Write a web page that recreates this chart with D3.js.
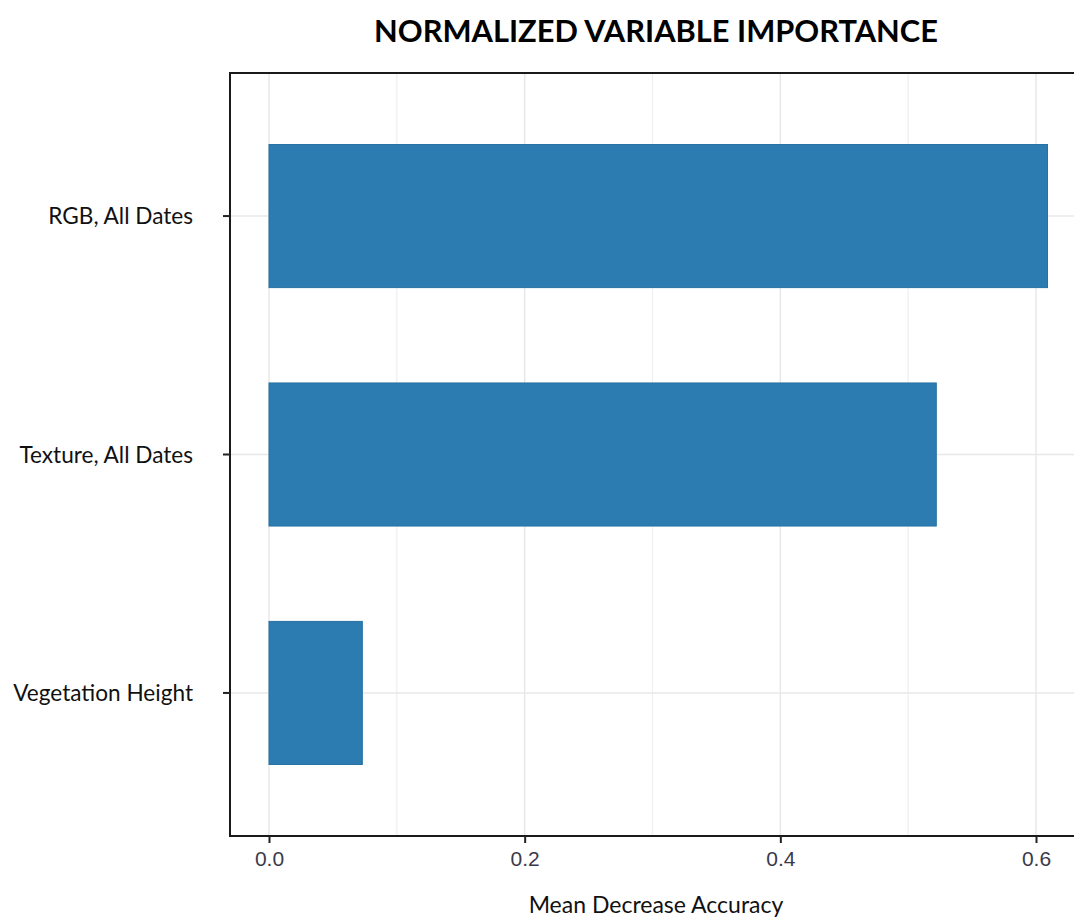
<!DOCTYPE html>
<html><head><meta charset="utf-8">
<script src="https://cdn.jsdelivr.net/npm/d3@7"></script>
<style>body{margin:0;background:#fff;}svg{display:block;}</style>
</head><body>
<script>
const categories = ["RGB, All Dates", "Texture, All Dates", "Vegetation Height"];
const values = [0.609, 0.522, 0.073];
const xTicks = [0.0, 0.2, 0.4, 0.6];
const xMinor = [0.1, 0.3, 0.5, 0.7];
const titleText = "NORMALIZED VARIABLE IMPORTANCE";
const xTitle = "Mean Decrease Accuracy";

const W = 1074, H = 917;
const svg = d3.select("body").append("svg").attr("width", W).attr("height", H);
const panel = {left: 230, top: 73, right: 1090, bottom: 836};

const x = d3.scaleLinear().domain([0, 0.6]).range([269, 1036]);
const y = d3.scaleBand().domain(categories).range([panel.top, panel.bottom]);
const step = (panel.bottom - panel.top) / 3.2;
const yc = c => panel.top + step * (0.6 + y.domain().indexOf(c));
const barH = step * 0.6;

svg.append("rect").attr("x", panel.left).attr("y", panel.top)
  .attr("width", panel.right - panel.left).attr("height", panel.bottom - panel.top)
  .attr("fill", "#fff");

const g = svg.append("g");
g.selectAll(".gmin").data(xMinor).join("line")
  .attr("x1", d => x(d)).attr("x2", d => x(d))
  .attr("y1", panel.top).attr("y2", panel.bottom)
  .attr("stroke", "#efefef").attr("stroke-width", 1.2);
g.selectAll(".gmaj").data(xTicks).join("line")
  .attr("x1", d => x(d)).attr("x2", d => x(d))
  .attr("y1", panel.top).attr("y2", panel.bottom)
  .attr("stroke", "#e8e8e8").attr("stroke-width", 1.5);
g.selectAll(".gy").data(categories).join("line")
  .attr("x1", panel.left).attr("x2", panel.right)
  .attr("y1", d => yc(d)).attr("y2", d => yc(d))
  .attr("stroke", "#e8e8e8").attr("stroke-width", 1.5);

svg.selectAll(".bar").data(categories).join("rect")
  .attr("x", x(0)).attr("y", d => yc(d) - barH / 2)
  .attr("width", (d, i) => x(values[i]) - x(0)).attr("height", barH)
  .attr("fill", "#2c7bb1").attr("stroke", "#2671a3").attr("stroke-width", 1);

svg.append("path")
  .attr("d", `M${panel.right},${panel.top}H${panel.left}V${panel.bottom}H${panel.right}`)
  .attr("fill", "none").attr("stroke", "#1a1a1a").attr("stroke-width", 2);

const xAxis = svg.append("g").attr("transform", `translate(0,${panel.bottom})`)
  .call(d3.axisBottom(x).tickValues(xTicks).tickFormat(d3.format(".1f")).tickSize(7).tickSizeOuter(0));
xAxis.select(".domain").remove();
xAxis.selectAll(".tick line").attr("stroke", "#222").attr("stroke-width", 2);
xAxis.selectAll(".tick text").attr("fill", "#3a3a4a").attr("font-family", "Liberation Sans, Arial, sans-serif")
  .attr("font-size", 21).attr("dy", null).attr("y", 30);

svg.selectAll(".yt").data(categories).join("line")
  .attr("x1", panel.left - 7).attr("x2", panel.left)
  .attr("y1", d => yc(d)).attr("y2", d => yc(d))
  .attr("stroke", "#222").attr("stroke-width", 2);
svg.selectAll(".yl").data(categories).join("text")
  .attr("x", 193).attr("y", d => yc(d)).attr("dy", "0.36em")
  .attr("text-anchor", "end").attr("font-family", "Lato, sans-serif")
  .attr("font-size", 22.6).attr("fill", "#111").text(d => d);

svg.append("text").attr("x", 656).attr("y", 42).attr("text-anchor", "middle")
  .attr("font-family", "Lato, sans-serif").attr("font-weight", "bold").attr("font-size", 30.8)
  .attr("fill", "#000").text(titleText);

svg.append("text").attr("x", 656).attr("y", 913).attr("text-anchor", "middle")
  .attr("font-family", "Lato, sans-serif").attr("font-size", 23)
  .attr("fill", "#111").text(xTitle);
</script>
</body></html>
